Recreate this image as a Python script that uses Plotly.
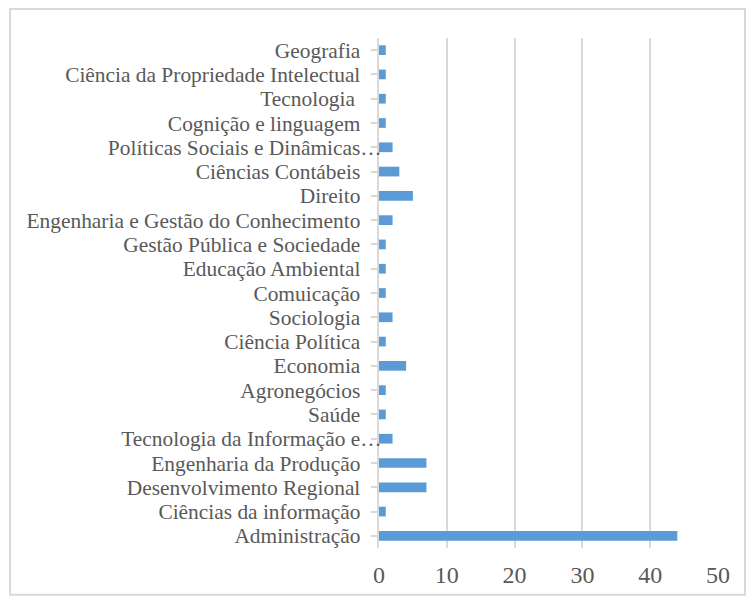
import plotly.graph_objects as go

# Areas of study, listed bottom to top
areas = [
    "Administração",
    "Ciências da informação",
    "Desenvolvimento Regional",
    "Engenharia da Produção",
    "Tecnologia da Informação e…",
    "Saúde",
    "Agronegócios",
    "Economia",
    "Ciência Política",
    "Sociologia",
    "Comuicação",
    "Educação Ambiental",
    "Gestão Pública e Sociedade",
    "Engenharia e Gestão do Conhecimento",
    "Direito",
    "Ciências Contábeis",
    "Políticas Sociais e Dinâmicas…",
    "Cognição e linguagem",
    "Tecnologia ",
    "Ciência da Propriedade Intelectual",
    "Geografia",
]
counts = [44, 1, 7, 7, 2, 1, 1, 4, 1, 2, 1, 1, 1, 2, 5, 3, 2, 1, 1, 1, 1]
x_ticks = [0, 10, 20, 30, 40, 50]

NB = "\u00a0"


def pad_label(name):
    # truncated names let the ellipsis hang past the common right edge
    if name.endswith("…"):
        return name
    return name.replace(" ", NB) + NB * 4 if name.endswith(" ") else name + NB * 4


tick_text = [pad_label(a) for a in areas]

FONT = "Times New Roman, Liberation Serif, serif"
GRID = "#d9d9d9"
TEXT = "#595959"

fig = go.Figure(
    go.Bar(
        y=list(range(len(areas))),
        x=counts,
        orientation="h",
        width=0.4,
        marker=dict(color="#5b9bd5", line=dict(width=0)),
        hoverinfo="skip",
    )
)

fig.update_layout(
    width=747,
    height=600,
    margin=dict(l=379, r=29, t=38, b=50),
    paper_bgcolor="white",
    plot_bgcolor="white",
    showlegend=False,
    xaxis=dict(
        range=[0, 50],
        tickvals=x_ticks,
        showgrid=True,
        gridcolor=GRID,
        gridwidth=2,
        zeroline=False,
        showline=False,
        ticks="",
        tickfont=dict(family=FONT, size=24, color=TEXT),
        ticklabelstandoff=10,
        fixedrange=True,
    ),
    yaxis=dict(
        range=[-0.5, len(areas) - 0.5],
        tickvals=list(range(len(areas))),
        ticktext=tick_text,
        showgrid=False,
        zeroline=False,
        showline=True,
        linecolor=GRID,
        linewidth=2,
        ticks="outside",
        ticklen=6,
        tickwidth=2,
        tickcolor=GRID,
        tickson="boundaries",
        ticklabelstandoff=-15,
        tickfont=dict(family=FONT, size=21.4, color=TEXT),
        fixedrange=True,
    ),
    shapes=[
        dict(
            type="rect",
            xref="paper",
            yref="paper",
            x0=(10 - 379) / 339,
            x1=(745 - 379) / 339,
            y0=(550 - 597) / 512,
            y1=(550 - 9) / 512,
            line=dict(color=GRID, width=2),
            fillcolor="rgba(0,0,0,0)",
            layer="below",
        )
    ],
)

fig.write_html("out.html")
